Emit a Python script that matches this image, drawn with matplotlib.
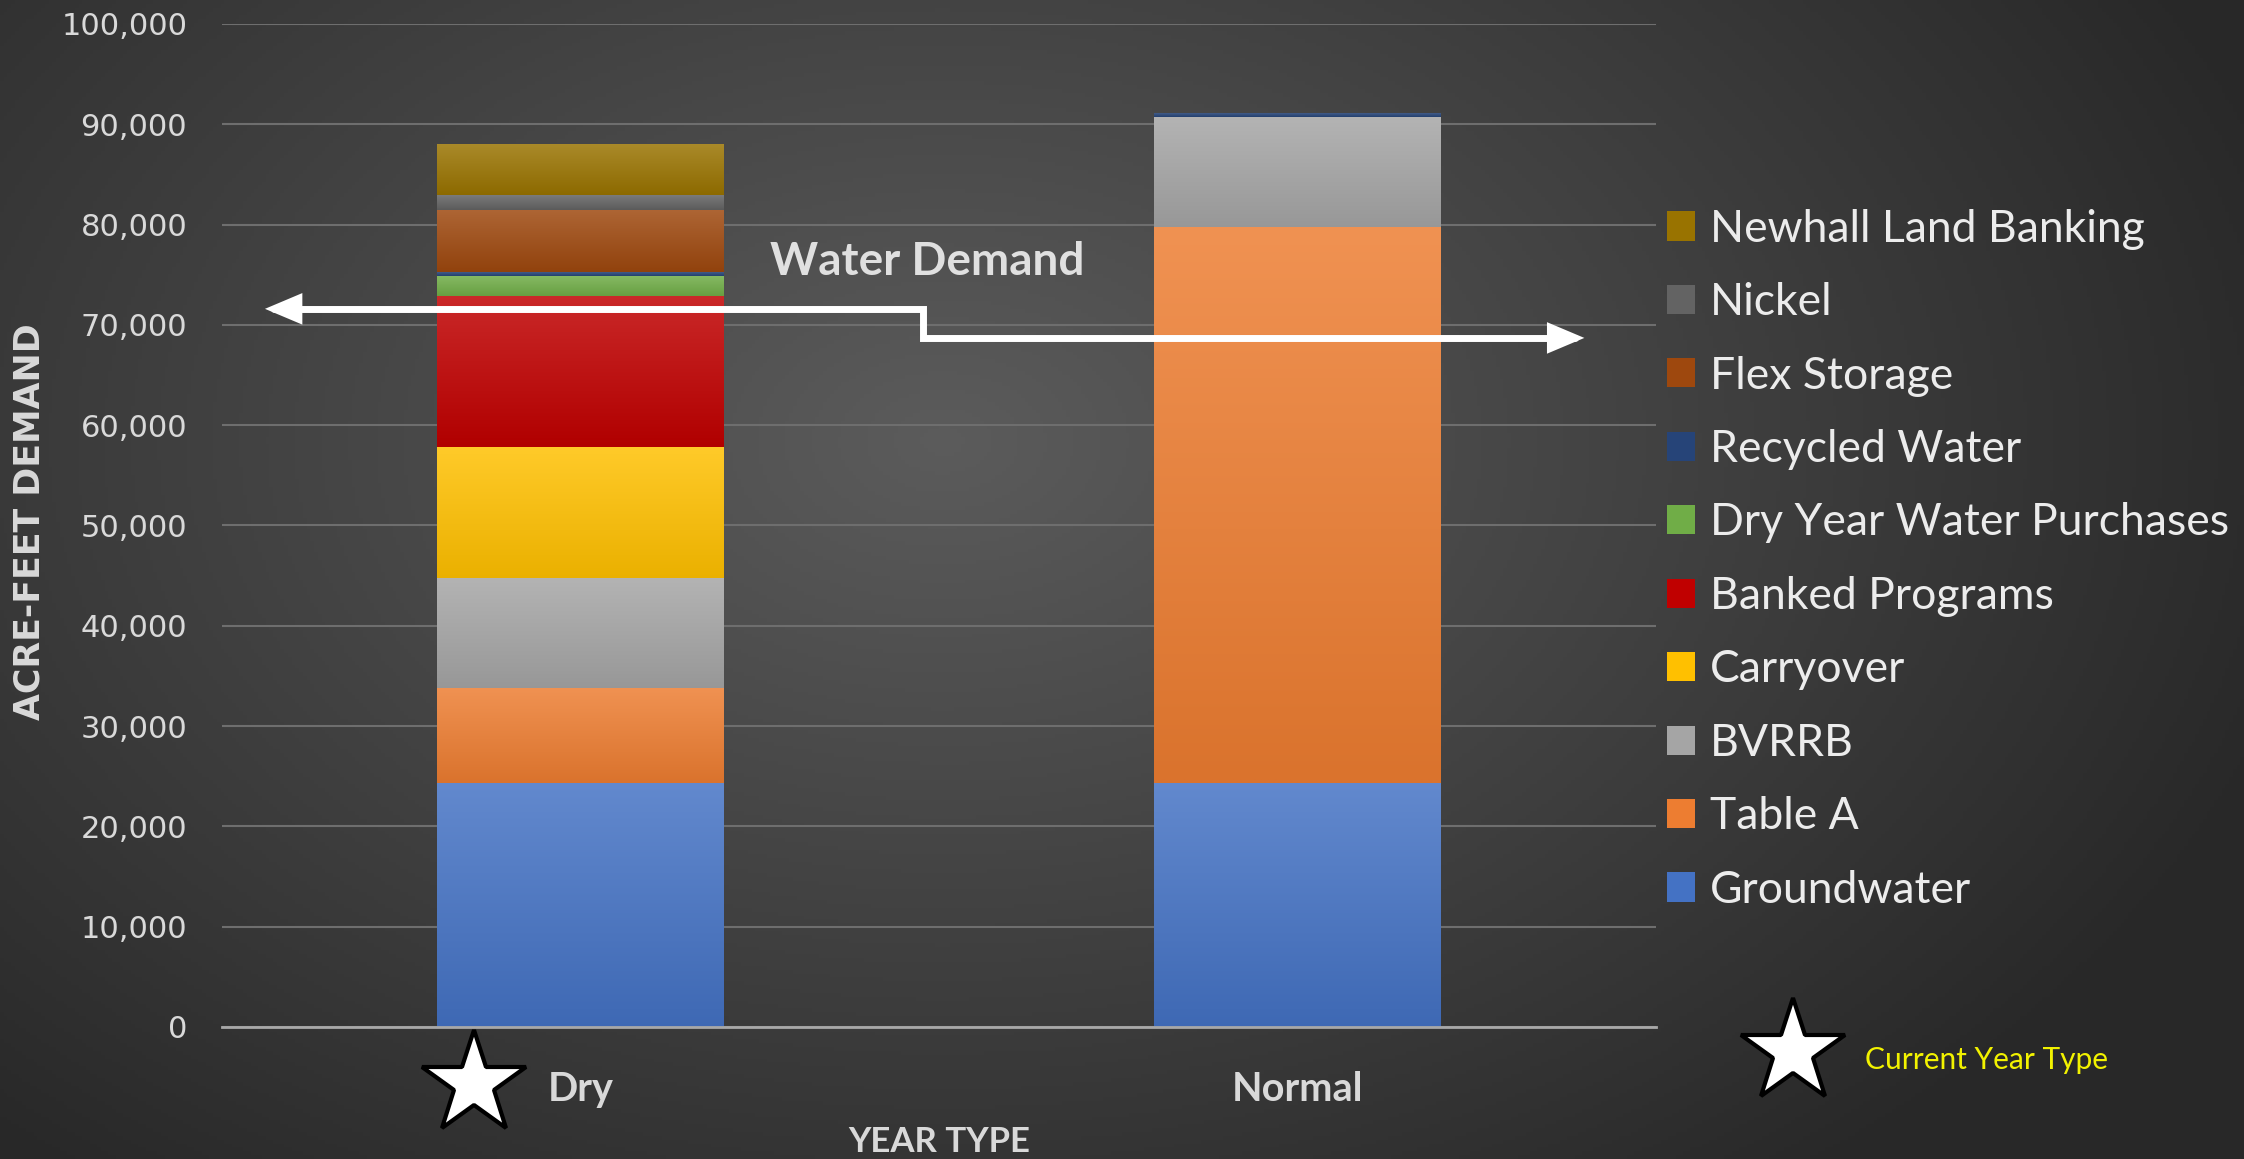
import numpy as np
import matplotlib.pyplot as plt
import matplotlib.transforms as mtransforms
from matplotlib.colors import to_rgb
from matplotlib.patches import FancyArrowPatch
from matplotlib.path import Path
from matplotlib.lines import Line2D
from matplotlib.ticker import FuncFormatter

year_types = ["Dry", "Normal"]
sources = ["Groundwater", "Table A", "BVRRB", "Carryover", "Banked Programs",
           "Dry Year Water Purchases", "Recycled Water", "Flex Storage",
           "Nickel", "Newhall Land Banking"]
dry_af = [24300, 9500, 11000, 13000, 15100, 2000, 400, 6200, 1500, 5000]
normal_af = [24300, 55500, 10900, 0, 0, 0, 400, 0, 0, 0]
source_colors = ["#4472C4", "#ED7D31", "#A5A5A5", "#FFC000", "#C00000",
                 "#70AD47", "#264478", "#9E480E", "#636363", "#997300"]
current_year = "Dry"

TXT = "#d9d9d9"


def gradient_fill(ax, rect, color):
    # excel-ish shading: lighter at the top of each segment
    c = np.array(to_rgb(color))
    top = c + (1 - c) * 0.16
    bot = c * 0.92
    t = np.linspace(0, 1, 64)[:, None]
    img = (bot + (top - bot) * t)[:, None, :]
    x0, y0 = rect.get_x(), rect.get_y()
    im = ax.imshow(img, extent=(x0, x0 + rect.get_width(), y0, y0 + rect.get_height()),
                   origin="lower", aspect="auto", zorder=2.5, interpolation="bilinear")
    im.set_clip_path(rect)


fig = plt.figure(figsize=(22.44, 11.59), dpi=100, facecolor="#3a3a3a")

# radial dark background
bg = fig.add_axes([0, 0, 1, 1], zorder=0)
yy, xx = np.mgrid[0:1:300j, 0:1:600j]
d = np.sqrt(((xx - 0.42) / 0.62) ** 2 + ((yy - 0.62) / 0.8) ** 2)
g = np.clip(0.36 - 0.2 * d, 0.16, 0.36)
bg.imshow(np.dstack([g, g, g]), extent=(0, 1, 0, 1), origin="lower", aspect="auto")
bg.axis("off")

ax = fig.add_axes([0.0989, 0.1139, 0.6391, 0.8654], zorder=1)
ax.patch.set_alpha(0)

x = np.arange(len(year_types))
bottoms = np.zeros(len(year_types))
for i, name in enumerate(sources):
    vals = np.array([dry_af[i], normal_af[i]], dtype=float)
    bars = ax.bar(x, vals, 0.4, bottom=bottoms, color=source_colors[i],
                  label=name, zorder=2, linewidth=0)
    for rect in bars:
        if rect.get_height() > 0:
            gradient_fill(ax, rect, source_colors[i])
    bottoms += vals

ax.set_xlim(-0.5, 1.5)
ax.set_ylim(0, 100000)
ax.set_yticks(np.arange(0, 100001, 10000))
ax.yaxis.set_major_formatter(FuncFormatter(lambda v, p: f"{v:,.0f}"))
ax.grid(axis="y", color="#6e6e6e", lw=1.5)
ax.set_axisbelow(True)
for s in ["top", "right", "left"]:
    ax.spines[s].set_visible(False)
ax.spines["bottom"].set_color("#a8a8a8")
ax.spines["bottom"].set_linewidth(2)
ax.tick_params(axis="y", length=0, pad=25, labelsize=22, labelcolor=TXT)
ax.tick_params(axis="x", length=0, pad=32, labelsize=28.5, labelcolor=TXT)
ax.set_xticks(x, year_types)
for lbl in ax.get_xticklabels():
    lbl.set_fontfamily("Lato")
    lbl.set_fontweight("bold")

# stepped two-headed arrow + label
verts = [(-0.44, 71600), (0.478, 71600), (0.478, 68700), (1.40, 68700)]
path = Path(verts, [Path.MOVETO, Path.LINETO, Path.LINETO, Path.LINETO])
arrow = FancyArrowPatch(path=path, arrowstyle="<|-|>,head_length=0.9,head_width=0.38",
                        mutation_scale=20, color="white", lw=5, zorder=4,
                        clip_on=False, joinstyle="miter")
ax.add_patch(arrow)
ax.text(0.483, 76300, "Water Demand", ha="center", va="center", fontsize=33,
        fontweight="bold", family="Lato", color="#e0e0e0", zorder=5)

# legend, top entry first
handles, labels = ax.get_legend_handles_labels()
fig.legend(handles[::-1], labels[::-1], loc="upper left", bbox_to_anchor=(0.743, 0.82),
           frameon=False, prop={"family": "Lato", "size": 32}, labelcolor="#ececec",
           handlelength=0.63, handleheight=0.63, handletextpad=0.32,
           labelspacing=0.73, borderpad=0, borderaxespad=0)

fig.text(0.013, 0.55, "ACRE-FEET DEMAND", rotation=90, family="Liberation Sans Narrow",
         weight="bold", size=25, color=TXT, ha="center", va="center")
fig.text(0.4184, 0.0147, "YEAR TYPE", ha="center", va="center", family="Lato",
         weight="bold", size=25, color=TXT)

# current year markers
trans = mtransforms.blended_transform_factory(ax.transData, fig.transFigure)
star_x = year_types.index(current_year) - 0.148
fig.add_artist(Line2D([star_x], [0.065], marker="*", markersize=78, mfc="white",
                      mec="black", mew=3, linestyle="none", transform=trans))
fig.add_artist(Line2D([0.799], [0.092], marker="*", markersize=78, mfc="white",
                      mec="black", mew=3, linestyle="none", transform=fig.transFigure))
fig.text(0.831, 0.0855, "Current Year Type", family="Lato", size=21.5,
         color="#f2f200", ha="left", va="center")

fig.savefig("out.png", dpi=100, facecolor=fig.get_facecolor())
